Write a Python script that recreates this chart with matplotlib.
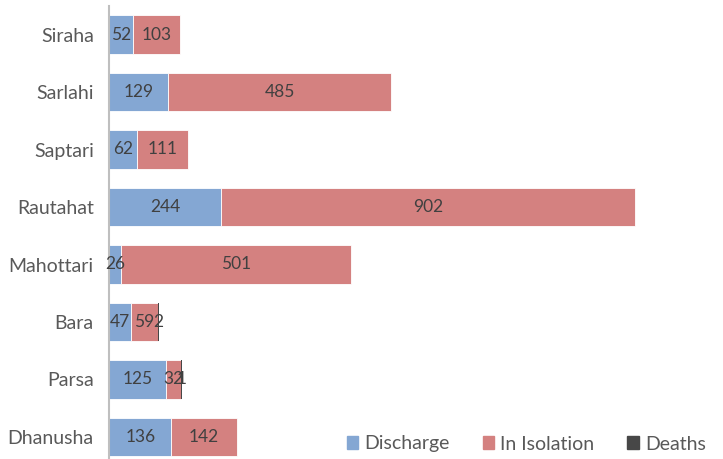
import matplotlib
matplotlib.use("Agg")
import matplotlib.pyplot as plt
from matplotlib.patches import Patch

# Data (bottom to top as drawn)
districts = ["Dhanusha", "Parsa", "Bara", "Mahottari", "Rautahat", "Saptari", "Sarlahi", "Siraha"]
discharge = [136, 125, 47, 26, 244, 62, 129, 52]
isolation = [142, 32, 59, 501, 902, 111, 485, 103]
deaths = [0, 1, 2, 0, 0, 0, 0, 0]

c_dis = "#84A7D3"
c_iso = "#D48180"
c_dea = "#474747"
txt = "#595959"

plt.rcParams["font.family"] = ["Lato", "DejaVu Sans"]

fig = plt.figure(figsize=(7.23, 4.59), dpi=100)
ax = fig.add_axes([109 / 723, 1 - 465.75 / 459, 614 / 723, 460 / 459])

y = list(range(len(districts)))
left_iso = discharge
left_dea = [d + i for d, i in zip(discharge, isolation)]

b1 = ax.barh(y, discharge, height=0.67, color=c_dis, edgecolor="white", linewidth=0.6)
b2 = ax.barh(y, isolation, left=left_iso, height=0.67, color=c_iso, edgecolor="white", linewidth=0.6)
b3 = ax.barh(y, deaths, left=left_dea, height=0.67, color=c_dea, linewidth=0)

for bars, vals in ((b1, discharge), (b2, isolation), (b3, deaths)):
    labels = [str(v) if v else "" for v in vals]
    ax.bar_label(bars, labels=labels, label_type="center", color="#404040", fontsize=12.5)

ax.set_xlim(0, 1337)
ax.set_ylim(-0.5, len(districts) - 0.5)
ax.set_yticks(y)
ax.set_yticklabels(districts, fontsize=14, color=txt)
ax.tick_params(axis="y", length=0, pad=11)
ax.set_xticks([])
for s in ("top", "right", "bottom"):
    ax.spines[s].set_visible(False)
ax.spines["left"].set_color("#BFBFBF")
ax.spines["left"].set_linewidth(1.5)

handles = [Patch(color=c_dis), Patch(color=c_iso), Patch(color=c_dea)]
fig.legend(handles, ["Discharge", "In Isolation", "Deaths"], loc="center right",
           bbox_to_anchor=(0.976, 1 - 444 / 459), ncol=3, frameon=False,
           fontsize=14, labelcolor=txt, handlelength=0.6, handleheight=0.6,
           handletextpad=0.3, columnspacing=1.7, borderpad=0, borderaxespad=0)

fig.savefig("out.png", dpi=100)
